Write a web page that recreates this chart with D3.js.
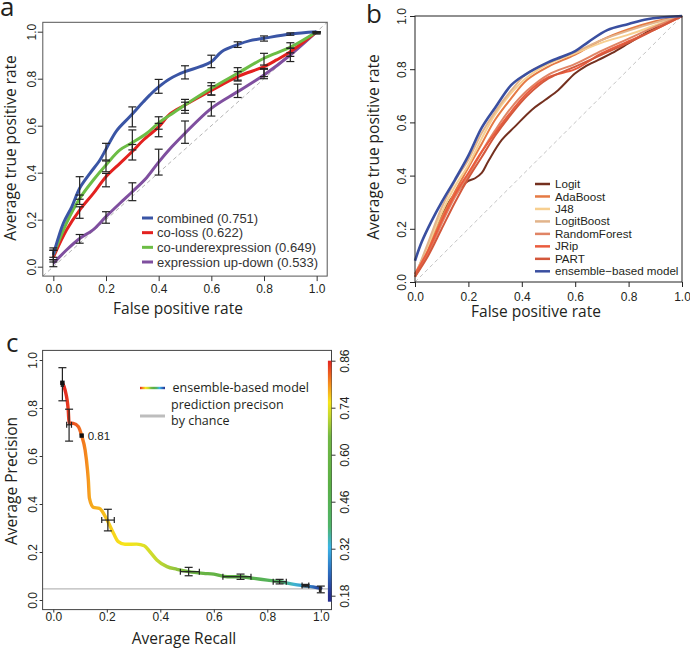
<!DOCTYPE html>
<html><head><meta charset="utf-8">
<script src="https://cdn.jsdelivr.net/npm/d3@7/dist/d3.min.js"></script>
<style>body{margin:0;background:#fff}svg{display:block}</style>
</head><body>
<svg id="chart" width="690" height="651"></svg>
<script>
// ================= DATA =================
const axisTicks = [0, 0.2, 0.4, 0.6, 0.8, 1.0];

// Panel a
const aNames = ["combined (0.751)", "co-loss (0.622)", "co-underexpression (0.649)", "expression up-down (0.533)"];
const aCombinedX = [0, 0.006, 0.038, 0.07, 0.1, 0.139, 0.177, 0.2, 0.24, 0.29, 0.342, 0.367, 0.4, 0.443, 0.5, 0.557, 0.6, 0.639, 0.7, 0.747, 0.8, 0.9, 1.0];
const aCombinedY = [0.05, 0.075, 0.185, 0.255, 0.334, 0.397, 0.454, 0.50, 0.578, 0.638, 0.702, 0.731, 0.765, 0.80, 0.83, 0.851, 0.872, 0.915, 0.945, 0.962, 0.972, 0.99, 1.0];
const aCoLossX = [0, 0.05, 0.1, 0.152, 0.2, 0.253, 0.3, 0.342, 0.4, 0.443, 0.5, 0.6, 0.7, 0.8, 0.848, 0.9, 1.0];
const aCoLossY = [0.04, 0.156, 0.241, 0.312, 0.383, 0.44, 0.49, 0.539, 0.595, 0.65, 0.688, 0.75, 0.809, 0.851, 0.88, 0.915, 1.0];
const aCoUnderX = [0, 0.05, 0.1, 0.152, 0.2, 0.253, 0.3, 0.355, 0.4, 0.443, 0.5, 0.6, 0.7, 0.8, 0.9, 1.0];
const aCoUnderY = [0.05, 0.185, 0.29, 0.369, 0.433, 0.497, 0.528, 0.568, 0.612, 0.645, 0.688, 0.759, 0.823, 0.887, 0.934, 1.0];
const aUpDownX = [0, 0.05, 0.1, 0.152, 0.2, 0.253, 0.3, 0.355, 0.4, 0.45, 0.5, 0.6, 0.7, 0.8, 0.9, 1.0];
const aUpDownY = [0.014, 0.071, 0.12, 0.158, 0.213, 0.27, 0.319, 0.38, 0.445, 0.51, 0.568, 0.674, 0.745, 0.816, 0.901, 1.0];
const aErrX = [0, 0.1, 0.2, 0.3, 0.4, 0.5, 0.6, 0.7, 0.8, 0.9, 1.0];
const aCombinedLo = [0.04, 0.287, 0.454, 0.595, 0.738, 0.799, 0.847, 0.933, 0.96, 0.985, 0.995];
const aCombinedHi = [0.08, 0.383, 0.525, 0.68, 0.797, 0.855, 0.9, 0.957, 0.982, 0.995, 1.0];
const aCoLossLo = [0.02, 0.206, 0.34, 0.454, 0.553, 0.653, 0.73, 0.79, 0.809, 0.895, 0.995];
const aCoLossHi = [0.07, 0.255, 0.397, 0.52, 0.61, 0.70, 0.77, 0.83, 0.844, 0.93, 1.0];
const aCoUnderLo = [0.03, 0.265, 0.404, 0.497, 0.585, 0.665, 0.731, 0.794, 0.858, 0.93, 0.995];
const aCoUnderHi = [0.07, 0.305, 0.45, 0.582, 0.638, 0.712, 0.783, 0.847, 0.908, 0.953, 1.0];
const aUpDownLo = [0.0, 0.10, 0.185, 0.281, 0.39, 0.525, 0.641, 0.72, 0.80, 0.873, 0.99];
const aUpDownHi = [0.03, 0.137, 0.234, 0.357, 0.5, 0.62, 0.702, 0.777, 0.84, 0.91, 1.0];

// Panel b
const bNames = ["Logit", "AdaBoost", "J48", "LogitBoost", "RandomForest", "JRip", "PART", "ensemble\u2212based model"];
const bLogitX = [0, 0.03, 0.062, 0.112, 0.162, 0.2, 0.225, 0.25, 0.275, 0.325, 0.375, 0.437, 0.487, 0.537, 0.599, 0.637, 0.687, 0.737, 0.799, 0.861, 0.924, 1.0];
const bLogitY = [0.02, 0.09, 0.17, 0.277, 0.346, 0.38, 0.39, 0.41, 0.455, 0.534, 0.585, 0.647, 0.684, 0.722, 0.784, 0.81, 0.835, 0.86, 0.897, 0.935, 0.966, 1.0];
const bCommonX = [0, 0.05, 0.1, 0.15, 0.2, 0.25, 0.3, 0.36, 0.42, 0.5, 0.6, 0.7, 0.8, 0.9, 1.0];
const bAdaBoostY = [0.03, 0.13, 0.24, 0.34, 0.43, 0.52, 0.61, 0.69, 0.76, 0.81, 0.855, 0.91, 0.95, 0.98, 1.0];
const bJ48Y = [0.02, 0.14, 0.26, 0.36, 0.44, 0.54, 0.63, 0.71, 0.77, 0.82, 0.86, 0.9, 0.93, 0.965, 1.0];
const bLogitBoostY = [0.02, 0.15, 0.28, 0.38, 0.46, 0.56, 0.64, 0.72, 0.785, 0.825, 0.865, 0.91, 0.945, 0.975, 1.0];
const bRandomForestY = [0.02, 0.11, 0.22, 0.32, 0.40, 0.49, 0.57, 0.655, 0.72, 0.78, 0.82, 0.87, 0.915, 0.96, 1.0];
const bJRipY = [0.03, 0.12, 0.23, 0.33, 0.41, 0.49, 0.56, 0.64, 0.71, 0.77, 0.80, 0.86, 0.905, 0.95, 1.0];
const bPARTY = [0.02, 0.10, 0.20, 0.30, 0.39, 0.47, 0.55, 0.63, 0.70, 0.765, 0.81, 0.855, 0.90, 0.95, 1.0];
const bEnsembleX = [0, 0.025, 0.06, 0.1, 0.15, 0.2, 0.25, 0.3, 0.36, 0.41, 0.49, 0.55, 0.6, 0.65, 0.72, 0.8, 0.87, 1.0];
const bEnsembleY = [0.08, 0.15, 0.225, 0.30, 0.385, 0.475, 0.58, 0.655, 0.74, 0.778, 0.822, 0.847, 0.868, 0.903, 0.947, 0.97, 0.988, 1.0];

// Panel c
const cRecall = [0.034, 0.044, 0.056, 0.059, 0.075, 0.094, 0.106, 0.119, 0.128, 0.131, 0.135, 0.15, 0.172, 0.2, 0.225, 0.243, 0.268, 0.312, 0.34, 0.362, 0.387, 0.425, 0.462, 0.506, 0.562, 0.6, 0.65, 0.7, 0.75, 0.8, 0.85, 0.9, 0.95, 1.0];
const cPrecision = [0.905, 0.875, 0.79, 0.737, 0.736, 0.722, 0.685, 0.625, 0.54, 0.5, 0.424, 0.386, 0.382, 0.336, 0.278, 0.243, 0.232, 0.233, 0.226, 0.2, 0.167, 0.139, 0.128, 0.118, 0.111, 0.108, 0.097, 0.097, 0.09, 0.083, 0.076, 0.065, 0.058, 0.049];
const cThreshold = [0.86, 0.855, 0.845, 0.84, 0.83, 0.82, 0.81, 0.80, 0.79, 0.785, 0.78, 0.775, 0.77, 0.76, 0.75, 0.745, 0.74, 0.73, 0.72, 0.71, 0.70, 0.68, 0.66, 0.62, 0.58, 0.56, 0.53, 0.50, 0.47, 0.44, 0.40, 0.33, 0.28, 0.19];
const cErrRecall = [0.034, 0.059, 0.204, 0.506, 0.70, 0.846, 0.943, 1.0];
const cErrPrecision = [0.90, 0.73, 0.333, 0.118, 0.097, 0.076, 0.06, 0.045];
const cErrPrecLo = [0.83, 0.662, 0.288, 0.101, 0.086, 0.067, 0.055, 0.03];
const cErrPrecHi = [0.968, 0.795, 0.378, 0.136, 0.108, 0.086, 0.065, 0.058];
const cErrRecLo = [0.03, 0.05, 0.181, 0.475, 0.634, 0.822, 0.93, 0.995];
const cErrRecHi = [0.038, 0.068, 0.228, 0.546, 0.739, 0.871, 0.955, 1.0];
const cMarkRecall = [0.034, 0.106];
const cMarkPrecision = [0.905, 0.685];
const cMarkLabel = ["", "0.81"];
const cChance = 0.046;
const cBarLabels = ["0.86", "0.74", "0.60", "0.46", "0.32", "0.18"];
const cLegend = ["ensemble-based model", "prediction precison", "by chance"];

// ================= DRAW =================
const svg = d3.select("#chart");
const FT = "'Liberation Sans', Arial, sans-serif";
const FH = "'Open Sans', 'Noto Sans', sans-serif";
const INK = "#231f20";
const fmt = d3.format(".1f");
const zip = (xs, ys) => xs.map((x, i) => [x, ys[i]]);

function frame(g, x, y, stroke) {
  const [x0, x1] = x.range(), [y0, y1] = y.range();
  g.append("rect").attr("x", x0).attr("y", y1).attr("width", x1 - x0).attr("height", y0 - y1)
    .attr("fill", "none").attr("stroke", stroke).attr("stroke-width", 1);
}
function axes(g, x, y, o) {
  const gx = g.append("g").attr("transform", `translate(0,${y.range()[0]})`)
    .call(d3.axisBottom(x).tickValues(axisTicks).tickFormat(fmt).tickSize(o.tx).tickPadding(o.px));
  const gy = g.append("g").attr("transform", `translate(${x.range()[0]},0)`)
    .call(d3.axisLeft(y).tickValues(axisTicks).tickFormat(fmt).tickSize(o.tx));
  [gx, gy].forEach(a => {
    a.select(".domain").remove();
    a.selectAll("line").attr("stroke", o.stroke);
    a.selectAll("text").attr("font-family", FT).attr("font-size", 12).attr("fill", INK);
  });
  gy.selectAll("text").attr("x", 0).attr("dy", 0).attr("text-anchor", "middle")
    .attr("transform", `translate(${-o.py},0) rotate(-90)`);
}
function title(g, text, x, y, rot) {
  g.append("text").attr("font-family", FH).attr("font-size", 15.5).attr("fill", INK)
    .attr("text-anchor", "middle")
    .attr("transform", `translate(${x},${y})` + (rot ? " rotate(-90)" : "")).text(text);
}
function letter(text, x, y) {
  svg.append("text").attr("x", x).attr("y", y).attr("font-family", FH).attr("font-size", 26)
    .attr("fill", INK).text(text);
}

// ---------- Panel a ----------
{
  const g = svg.append("g");
  const x = d3.scaleLinear().domain([-0.04, 1.04]).range([42.8, 327.2]);
  const y = d3.scaleLinear().domain([-0.04, 1.04]).range([276.1, 22.3]);
  const line = d3.line().x(d => x(d[0])).y(d => y(d[1])).curve(d3.curveCatmullRom.alpha(0.5));
  g.append("line").attr("x1", x(-0.04)).attr("y1", y(-0.04)).attr("x2", x(1.04)).attr("y2", y(1.04))
    .attr("stroke", "#b5b5b5").attr("stroke-dasharray", "4,3").attr("stroke-width", 1);
  const series = [
    {x: aUpDownX, y: aUpDownY, lo: aUpDownLo, hi: aUpDownHi, c: "#7f4f9f"},
    {x: aCoLossX, y: aCoLossY, lo: aCoLossLo, hi: aCoLossHi, c: "#e3211f"},
    {x: aCoUnderX, y: aCoUnderY, lo: aCoUnderLo, hi: aCoUnderHi, c: "#6cbd45"},
    {x: aCombinedX, y: aCombinedY, lo: aCombinedLo, hi: aCombinedHi, c: "#3a55a5"}
  ];
  series.forEach(s => g.append("path").attr("d", line(zip(s.x, s.y))).attr("fill", "none")
    .attr("stroke", s.c).attr("stroke-width", 3));
  const eb = g.append("g").attr("stroke", "#222").attr("stroke-width", 1.2);
  series.forEach(s => aErrX.forEach((ex, i) => {
    const px = x(ex);
    eb.append("line").attr("x1", px).attr("x2", px).attr("y1", y(s.lo[i])).attr("y2", y(s.hi[i]));
    eb.append("line").attr("x1", px - 4).attr("x2", px + 4).attr("y1", y(s.lo[i])).attr("y2", y(s.lo[i]));
    eb.append("line").attr("x1", px - 4).attr("x2", px + 4).attr("y1", y(s.hi[i])).attr("y2", y(s.hi[i]));
  }));
  frame(g, x, y, "#555");
  axes(g, x, y, {tx: 5, px: 3.7, py: 6.5, stroke: "#333"});
  const legC = ["#3a55a5", "#e3211f", "#6cbd45", "#7f4f9f"];
  const legY = d3.scalePoint().domain(aNames).range([218, 262]);
  aNames.forEach((n, i) => {
    g.append("line").attr("x1", 142).attr("x2", 153).attr("y1", legY(n)).attr("y2", legY(n))
      .attr("stroke", legC[i]).attr("stroke-width", 3);
    g.append("text").attr("x", 157).attr("y", legY(n)).attr("dy", "0.35em").attr("font-family", FT)
      .attr("font-size", 13).attr("fill", "#333").text(n);
  });
  title(g, "False positive rate", 178, 314, false);
  title(g, "Average true positive rate", 16, 148, true);
  letter("a", 0, 16);
}

// ---------- Panel b ----------
{
  const g = svg.append("g");
  const x = d3.scaleLinear().domain([0, 1]).range([415, 682]);
  const y = d3.scaleLinear().domain([0, 1]).range([282, 16]);
  const line = d3.line().x(d => x(d[0])).y(d => y(d[1])).curve(d3.curveCatmullRom.alpha(0.5));
  g.append("line").attr("x1", x(0)).attr("y1", y(0)).attr("x2", x(1)).attr("y2", y(1))
    .attr("stroke", "#c4c4c4").attr("stroke-dasharray", "4,3").attr("stroke-width", 1);
  const cols = ["#74301f", "#e57a44", "#f7cf90", "#e2b48b", "#e08465", "#ea5b3d", "#d3583c", "#3a4fa0"];
  const series = [
    [bLogitX, bLogitY], [bCommonX, bAdaBoostY], [bCommonX, bJ48Y], [bCommonX, bLogitBoostY],
    [bCommonX, bRandomForestY], [bCommonX, bJRipY], [bCommonX, bPARTY], [bEnsembleX, bEnsembleY]
  ];
  series.forEach((s, i) => g.append("path").attr("d", line(zip(s[0], s[1]))).attr("fill", "none")
    .attr("stroke", cols[i]).attr("stroke-width", i === 7 ? 2.6 : 2));
  frame(g, x, y, "#222");
  axes(g, x, y, {tx: 5, px: 5, py: 9.5, stroke: "#222"});
  const legY = d3.scalePoint().domain(bNames).range([184, 271.3]);
  bNames.forEach((n, i) => {
    g.append("line").attr("x1", 535).attr("x2", 550).attr("y1", legY(n)).attr("y2", legY(n))
      .attr("stroke", cols[i]).attr("stroke-width", 2.5);
    g.append("text").attr("x", 555).attr("y", legY(n)).attr("dy", "0.35em").attr("font-family", FT)
      .attr("font-size", 11.6).attr("fill", INK).text(n);
  });
  title(g, "False positive rate", 536, 316.5, false);
  title(g, "Average true positive rate", 379, 147, true);
  letter("b", 366, 23);
}

// ---------- Panel c ----------
{
  const g = svg.append("g");
  const x = d3.scaleLinear().domain([-0.04, 1.04]).range([42.6, 331.5]);
  const y = d3.scaleLinear().domain([-0.04, 1.04]).range([609.6, 350.4]);
  const color = d3.scaleLinear()
    .domain([0.18, 0.25, 0.32, 0.38, 0.50, 0.64, 0.70, 0.74, 0.79, 0.86])
    .range(["#262f8f", "#2c6fc0", "#3bb4e6", "#4fb46a", "#5aaf45", "#72b844", "#c6d92f", "#f7e51b", "#f6921e", "#e32421"]);
  const defs = svg.append("defs");
  const gx1 = x(cRecall[0]), gx2 = x(cRecall[cRecall.length - 1]);
  const grad = defs.append("linearGradient").attr("id", "curveGrad").attr("gradientUnits", "userSpaceOnUse")
    .attr("x1", gx1).attr("x2", gx2).attr("y1", 0).attr("y2", 0);
  cRecall.forEach((r, i) => grad.append("stop").attr("offset", (x(r) - gx1) / (gx2 - gx1)).attr("stop-color", color(cThreshold[i])));

  g.append("line").attr("x1", x.range()[0]).attr("x2", x.range()[1]).attr("y1", y(cChance)).attr("y2", y(cChance))
    .attr("stroke", "#b8b8b8").attr("stroke-width", 1.2);
  const line = d3.line().x(d => x(d[0])).y(d => y(d[1])).curve(d3.curveMonotoneX);
  g.append("path").attr("d", line(zip(cRecall, cPrecision))).attr("fill", "none")
    .attr("stroke", "url(#curveGrad)").attr("stroke-width", 3.4).attr("stroke-linecap", "round");

  const eb = g.append("g").attr("stroke", "#222").attr("stroke-width", 1.2);
  cErrRecall.forEach((r, i) => {
    const px = x(r), py = y(cErrPrecision[i]);
    eb.append("line").attr("x1", px).attr("x2", px).attr("y1", y(cErrPrecLo[i])).attr("y2", y(cErrPrecHi[i]));
    eb.append("line").attr("x1", px - 4).attr("x2", px + 4).attr("y1", y(cErrPrecLo[i])).attr("y2", y(cErrPrecLo[i]));
    eb.append("line").attr("x1", px - 4).attr("x2", px + 4).attr("y1", y(cErrPrecHi[i])).attr("y2", y(cErrPrecHi[i]));
    eb.append("line").attr("x1", x(cErrRecLo[i])).attr("x2", x(cErrRecHi[i])).attr("y1", py).attr("y2", py);
    eb.append("line").attr("x1", x(cErrRecLo[i])).attr("x2", x(cErrRecLo[i])).attr("y1", py - 3).attr("y2", py + 3);
    eb.append("line").attr("x1", x(cErrRecHi[i])).attr("x2", x(cErrRecHi[i])).attr("y1", py - 3).attr("y2", py + 3);
  });
  cMarkRecall.forEach((r, i) => {
    g.append("rect").attr("x", x(r) - 2.2).attr("y", y(cMarkPrecision[i]) - 2.2).attr("width", 4.4).attr("height", 4.4).attr("fill", "#111");
    if (cMarkLabel[i]) g.append("text").attr("x", x(r) + 6).attr("y", y(cMarkPrecision[i])).attr("dy", "0.35em")
      .attr("font-family", FT).attr("font-size", 11.5).attr("fill", INK).text(cMarkLabel[i]);
  });

  frame(g, x, y, "#444");
  axes(g, x, y, {tx: 3, px: 0, py: 6, stroke: "#333"});

  const bx = x.range()[1];
  const by = d3.scalePoint().domain(cBarLabels).range([360.7, 595.7]);
  const bv = d3.scaleLinear().domain([0.18, 0.86]).range([by("0.18"), by("0.86")]);
  const top = by("0.86"), bot = by("0.18") + 6;
  const vgrad = defs.append("linearGradient").attr("id", "barGrad").attr("gradientUnits", "userSpaceOnUse")
    .attr("x1", 0).attr("x2", 0).attr("y1", top).attr("y2", bot);
  color.domain().slice().reverse().forEach(v => vgrad.append("stop")
    .attr("offset", Math.min(1, (bv(v) - top) / (bot - top))).attr("stop-color", color(v)));
  g.append("rect").attr("x", bx - 3.6).attr("y", top).attr("width", 3.6).attr("height", bot - top).attr("fill", "url(#barGrad)");
  const ga = g.append("g").attr("transform", `translate(${bx},0)`).call(d3.axisRight(by).tickSize(4));
  ga.select(".domain").remove();
  ga.selectAll("line").attr("stroke", "#333");
  ga.selectAll("text").attr("x", 0).attr("dy", 0).attr("text-anchor", "middle")
    .attr("transform", "translate(17,0) rotate(-90)")
    .attr("font-family", FT).attr("font-size", 12).attr("fill", INK);

  const lg = defs.append("linearGradient").attr("id", "legGrad").attr("x1", 0).attr("x2", 1).attr("y1", 0).attr("y2", 0);
  color.domain().slice().reverse().forEach((v, i, arr) => lg.append("stop")
    .attr("offset", i / (arr.length - 1)).attr("stop-color", color(v)));
  g.append("rect").attr("x", 140).attr("y", 386.8).attr("width", 25).attr("height", 2.4).attr("fill", "url(#legGrad)");
  g.append("line").attr("x1", 140).attr("x2", 165).attr("y1", 416).attr("y2", 416)
    .attr("stroke", "#bdbdbd").attr("stroke-width", 3);
  const ly = [388, 405, 421];
  cLegend.forEach((t, i) => g.append("text").attr("x", i === 0 ? 172.5 : 171).attr("y", ly[i]).attr("dy", "0.35em")
    .attr("font-family", FH).attr("font-size", 12.5).attr("fill", INK).text(t));

  title(g, "Average Recall", 184, 644, false);
  title(g, "Average Precision", 16.5, 481, true);
  letter("c", 6, 352);
}
</script>
</body></html>
